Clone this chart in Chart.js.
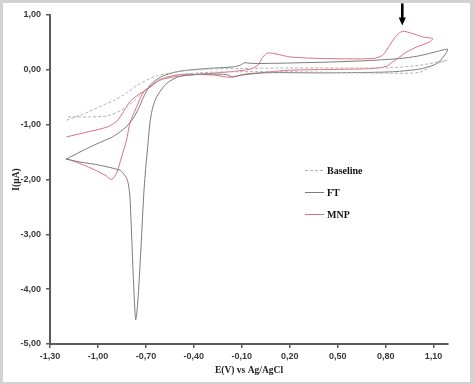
<!DOCTYPE html>
<html><head><meta charset="utf-8">
<script src="https://cdn.jsdelivr.net/npm/chart.js@4.4.0/dist/chart.umd.min.js"></script>
<style>
html,body{margin:0;padding:0;background:#d2d2d2;}
#wrap{position:relative;width:474px;height:384px;}
</style></head>
<body><div id="wrap"><canvas id="c"></canvas></div>
<script>
// ---- data ----
const xTicks = [-1.3, -1.0, -0.7, -0.4, -0.1, 0.2, 0.5, 0.8, 1.1];
const yTicks = [-5, -4, -3, -2, -1, 0, 1];
const seriesNames = ['Baseline', 'FT', 'MNP'];

const baseE = [-1.196, -1.11, -1.06, -0.946, -0.894, -0.815, -0.7375, -0.633, -0.4875, -0.32, -0.1125, 0.2, 0.825, 1.0125, 1.1875,
  1.106, 1.0125, 0.825, 0.2, -0.1125, -0.3625, -0.55, -0.675, -0.706, -0.7375, -0.769, -0.82, -0.852, -0.94, -1.06, -1.19];
const baseI = [-0.92, -0.827, -0.767, -0.614, -0.55, -0.41, -0.25, -0.11, -0.03, 0.011, 0.024, 0.035, 0.038, 0.084, 0.175,
  0.10, -0.044, -0.062, -0.035, -0.035, -0.053, -0.117, -0.28, -0.37, -0.46, -0.554, -0.67, -0.736, -0.84, -0.858, -0.86];

const ftE = [-1.2, -1.1, -1.0, -0.92, -0.87, -0.82, -0.78, -0.745, -0.715, -0.69, -0.66, -0.6, -0.5, -0.32, -0.156, -0.11, -0.081, -0.05, 0.0125, 0.2, 0.469, 0.7, 0.8875, 1.0, 1.075, 1.19,
  1.17, 1.12, 1.05, 0.994, 0.825, 0.406, 0.056, -0.11, -0.156, -0.196, -0.3625, -0.4875, -0.571, -0.633, -0.66, -0.675, -0.688, -0.700, -0.713, -0.731, -0.748, -0.758, -0.764, -0.769, -0.778, -0.789, -0.80, -0.81, -0.825, -0.844, -0.8625, -0.9875, -1.1125, -1.2];
const ftI = [-1.63, -1.48, -1.34, -1.24, -1.15, -1.03, -0.89, -0.70, -0.50, -0.36, -0.24, -0.12, -0.03, 0.024, 0.053, 0.084, 0.13, 0.12, 0.115, 0.125, 0.144, 0.17, 0.206, 0.25, 0.30, 0.375,
  0.27, 0.115, 0.04, 0.005, -0.038, -0.056, -0.053, -0.098, -0.13, -0.086, -0.08, -0.117, -0.25, -0.494, -0.72, -0.97, -1.38, -1.75, -2.25, -3.25, -4.12, -4.47, -4.56, -4.38, -3.83, -3.05, -2.32, -2.08, -1.95, -1.88, -1.83, -1.74, -1.68, -1.63];

const mnpE = [-1.196, -1.06, -0.94, -0.88, -0.84, -0.80, -0.76, -0.72, -0.675, -0.6125, -0.519, -0.3625, -0.175, -0.05, 0.0, 0.031, 0.0625, 0.1375, 0.2, 0.406, 0.719, 0.781, 0.825, 0.869, 0.906, 0.969, 1.031, 1.094,
  1.075, 0.994, 0.931, 0.8875, 0.844, 0.806, 0.719, 0.406, 0.2, 0.0125, -0.081, -0.175, -0.269, -0.3625, -0.4875, -0.6125, -0.675, -0.719, -0.758, -0.8, -0.821, -0.852, -0.883, -0.914, -0.956, -1.061, -1.196];
const mnpI = [-1.222, -1.13, -1.04, -0.93, -0.76, -0.58, -0.48, -0.40, -0.317, -0.189, -0.126, -0.08, -0.035, 0.011, 0.084, 0.23, 0.308, 0.275, 0.235, 0.206, 0.206, 0.266, 0.448, 0.63, 0.703, 0.661, 0.60, 0.57,
  0.508, 0.417, 0.326, 0.235, 0.144, 0.066, 0.024, 0.005, -0.007, -0.053, -0.08, -0.135, -0.098, -0.086, -0.086, -0.177, -0.311, -0.426, -0.676, -0.973, -1.28, -1.587, -1.88, -1.998, -1.92, -1.77, -1.616];

const arrowE = 0.904, arrowI = 0.81;

// ---- build ----
const pts = (xs, ys) => xs.map((x, i) => ({x: x, y: ys[i]}));
const fmt = v => Number(v).toFixed(2).replace('.', ',');
const tickFont = {family: "'Liberation Sans', Arial, sans-serif", size: 9, weight: 'bold'};
const titleFont = {family: "'Liberation Serif', 'Times New Roman', serif", size: 9.5, weight: 'bold'};

const frame = {
  id: 'frame',
  beforeDraw(chart) {
    const ctx = chart.ctx;
    ctx.save(); ctx.fillStyle = '#ffffff'; ctx.fillRect(3, 3, 467, 379); ctx.restore();
  }
};
const arrow = {
  id: 'arrow',
  afterDatasetsDraw(chart) {
    const ctx = chart.ctx;
    const x = chart.scales.x.getPixelForValue(arrowE);
    const y = chart.scales.y.getPixelForValue(arrowI);
    ctx.save();
    ctx.fillStyle = '#000';
    ctx.fillRect(x - 1.3, y - 22, 2.6, 15);
    ctx.beginPath(); ctx.moveTo(x - 3.6, y - 8); ctx.lineTo(x + 3.6, y - 8); ctx.lineTo(x, y); ctx.closePath(); ctx.fill();
    ctx.restore();
  }
};
const legendBox = {
  id: 'legendBox',
  afterDraw(chart) {
    const ctx = chart.ctx, a = chart.chartArea;
    const x0 = a.left + 255, y0 = a.top + 155;
    ctx.save();
    chart.data.datasets.forEach((ds, i) => {
      const y = y0 + 22 * i;
      ctx.strokeStyle = ds.borderColor; ctx.lineWidth = 1;
      ctx.setLineDash(ds.borderDash || []);
      ctx.beginPath(); ctx.moveTo(x0, y + 0.5); ctx.lineTo(x0 + 19, y + 0.5); ctx.stroke();
      ctx.setLineDash([]);
      ctx.fillStyle = '#111';
      ctx.font = "bold 10px 'Liberation Serif', 'Times New Roman', serif";
      ctx.textBaseline = 'middle';
      ctx.fillText(ds.label, x0 + 22, y + 1);
    });
    ctx.restore();
  }
};

const mk = (label, data, color, dash) => ({
  label, data, borderColor: color, borderWidth: 1, borderDash: dash, showLine: true,
  pointRadius: 0, tension: 0.25, fill: false
});

new Chart(document.getElementById('c'), {
  type: 'scatter',
  data: {
    datasets: [
      mk(seriesNames[0], pts(baseE, baseI), '#b3b3b3', [3, 2]),
      mk(seriesNames[1], pts(ftE, ftI), '#7c7c7c', []),
      mk(seriesNames[2], pts(mnpE, mnpI), '#e07080', [])
    ]
  },
  options: {
    responsive: true, maintainAspectRatio: false, animation: false,
    layout: {padding: {left: 7, right: 26, top: 15, bottom: 3}},
    plugins: {legend: {display: false}, tooltip: {enabled: false}},
    scales: {
      x: {
        type: 'linear', min: xTicks[0], max: 1.19,
        afterBuildTicks: s => { s.ticks = xTicks.map(v => ({value: v})); },
        afterFit: s => { s.height = 37; },
        ticks: {callback: fmt, font: tickFont, color: '#3a3a3a', padding: 3, autoSkip: false, maxRotation: 0},
        grid: {drawOnChartArea: false, drawTicks: true, tickLength: 4, color: '#5a5a5a', lineWidth: 1.5},
        border: {display: true, color: '#5a5a5a', width: 2},
        title: {display: true, text: 'E(V) vs Ag/AgCl', font: titleFont, color: '#222', padding: {top: 2, bottom: 5}}
      },
      y: {
        type: 'linear', min: yTicks[0], max: yTicks[yTicks.length - 1],
        afterBuildTicks: s => { s.ticks = yTicks.map(v => ({value: v})); },
        afterFit: s => { s.width = 43; },
        ticks: {callback: fmt, font: tickFont, color: '#3a3a3a', padding: 5},
        grid: {drawOnChartArea: false, drawTicks: true, tickLength: 4, color: '#5a5a5a', lineWidth: 1.5},
        border: {display: true, color: '#5a5a5a', width: 2},
        title: {display: true, text: 'I(µA)', font: titleFont, color: '#222', padding: {top: 4, bottom: 2}}
      }
    }
  },
  plugins: [frame, arrow, legendBox]
});
</script>
</body></html>
